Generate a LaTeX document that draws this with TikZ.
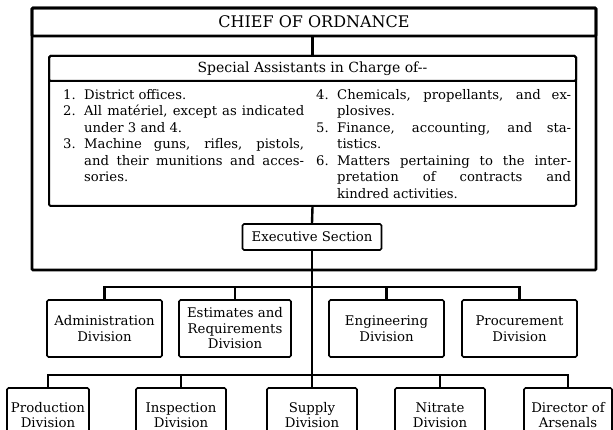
\documentclass[tikz,border=0pt]{standalone}
\usepackage{fontspec}
\setmainfont{DejaVu Serif}
\newlength\hangw \setlength\hangw{21pt}
\newcommand\itemjust[3]{\makebox[\hangw][l]{#1}\makebox[#2][s]{#3}}
\newcommand\itemlast[3]{\makebox[\hangw][l]{#1}\makebox[#2][l]{#3}}
\begin{document}
\begin{tikzpicture}[x=1pt,y=-1pt,
  box/.style={draw, line width=1.6pt, rounded corners=1.5pt, align=center, inner sep=0pt,
    font=\fontsize{13.3}{15.5}\selectfont},
  frame/.style={draw, line width=2.6pt, rounded corners=1pt, inner sep=0pt},
  link/.style={line width=2.4pt},
  items/.style={inner sep=0pt, align=left, anchor=north west, font=\fontsize{13.2}{16.5}\selectfont}]
\useasboundingbox (0,0) rectangle (613,430);
% outer frame and chief
\node[frame, minimum width=564pt, minimum height=262pt] (outer) at (314,139) {};
\node[frame, minimum width=564pt, minimum height=28pt, font=\fontsize{16}{18}\selectfont] (chief) at (314,22) {CHIEF OF ORDNANCE};
% special assistants
\node[box, line width=2pt, minimum width=527pt, minimum height=150pt] (special) at (312.5,131) {};
\node[box, line width=2pt, minimum width=527pt, minimum height=25pt, anchor=north,
  font=\fontsize{14}{16}\selectfont] (spechead) at (special.north) {Special Assistants in Charge of-{}-};
\node[items] (leftcol) at (63,89) {%
  \itemlast{1.}{220pt}{District offices.}\\
  \itemjust{2.}{220pt}{All matériel, except as indicated}\\
  \itemlast{}{220pt}{under 3 and 4.}\\
  \itemjust{3.}{220pt}{Machine guns, rifles, pistols,}\\
  \itemjust{}{220pt}{and their munitions and acces-}\\
  \itemlast{}{220pt}{sories.}};
\node[items] (rightcol) at (316,89) {%
  \itemjust{4.}{234pt}{Chemicals, propellants, and ex-}\\
  \itemlast{}{234pt}{plosives.}\\
  \itemjust{5.}{234pt}{Finance, accounting, and sta-}\\
  \itemlast{}{234pt}{tistics.}\\
  \itemjust{6.}{234pt}{Matters pertaining to the inter-}\\
  \itemjust{}{234pt}{pretation of contracts and}\\
  \itemlast{}{234pt}{kindred activities.}};
% executive
\node[box, minimum width=139pt, minimum height=26pt] (exec) at (312,237) {Executive Section};
% first row
\node[box, minimum width=115pt, minimum height=57pt] (admin) at (104.5,328.5) {Administration\\Division};
\node[box, minimum width=112pt, minimum height=57pt] (estim) at (235,328.5) {Estimates and\\Requirements\\Division};
\node[box, minimum width=115pt, minimum height=57pt] (engin) at (386.5,328.5) {Engineering\\Division};
\node[box, minimum width=115pt, minimum height=57pt] (procur) at (519.5,328.5) {Procurement\\Division};
% second row
\node[box, minimum width=82pt, minimum height=54pt] (prod) at (48,415) {Production\\Division};
\node[box, minimum width=90pt, minimum height=54pt] (insp) at (181,415) {Inspection\\Division};
\node[box, minimum width=90pt, minimum height=54pt] (supply) at (312,415) {Supply\\Division};
\node[box, minimum width=90pt, minimum height=54pt] (nitrate) at (440,415) {Nitrate\\Division};
\node[box, minimum width=88pt, minimum height=54pt] (arsenal) at (568,415) {Director of\\Arsenals};
% bus coordinates
\coordinate (bus1) at (312,287);
\coordinate (bus2) at (312,375);
% connectors
\draw[link] (special.north) -- (special.north |- chief.south);
\draw[link] (special.south) -- (exec.north);
\draw[link] (exec.south) -- (supply.north);
\draw[link] (admin.north) |- (procur.north |- bus1) -- (procur.north);
\draw[link] (estim.north) -- (estim.north |- bus1);
\draw[link] (engin.north) -- (engin.north |- bus1);
\draw[link] (prod.north) |- (arsenal.north |- bus2) -- (arsenal.north);
\draw[link] (insp.north) -- (insp.north |- bus2);
\draw[link] (nitrate.north) -- (nitrate.north |- bus2);
\end{tikzpicture}
\end{document}
